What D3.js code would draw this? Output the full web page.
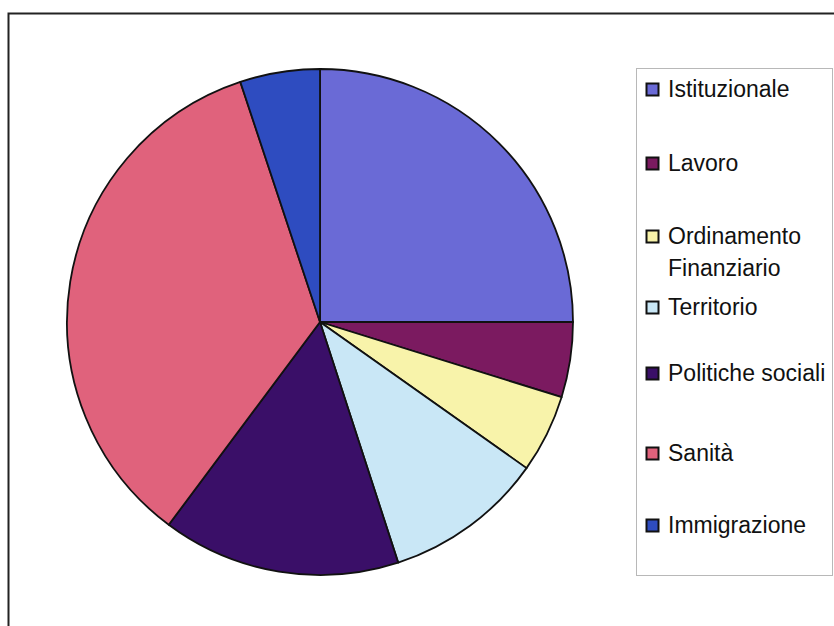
<!DOCTYPE html>
<html>
<head>
<meta charset="utf-8">
<script src="https://cdn.jsdelivr.net/npm/d3@7"></script>
<style>
  html, body { margin: 0; padding: 0; background: #ffffff; }
  svg { display: block; }
</style>
</head>
<body>
<script>
// Share of regional acts by subject area (percent)
const categories = ["Istituzionale", "Lavoro", "Ordinamento Finanziario", "Territorio", "Politiche sociali", "Sanità", "Immigrazione"];
const values = [25.0, 4.8, 5.0, 10.2, 15.2, 34.7, 5.1];
const colors = ["#6a6ad6", "#7b1a60", "#f8f3aa", "#c9e7f6", "#3a0f68", "#e0627c", "#2e4cc0"];
// Legend label lines (long names wrap onto two lines)
const legendLines = [["Istituzionale"], ["Lavoro"], ["Ordinamento", "Finanziario"], ["Territorio"], ["Politiche sociali"], ["Sanità"], ["Immigrazione"]];
const legendY = [89, 163, 236, 307, 373, 453, 525];

const W = 834, H = 626;
const svg = d3.select("body").append("svg").attr("width", W).attr("height", H);

// Chart frame
svg.append("rect")
  .attr("x", 8.5).attr("y", 13.5)
  .attr("width", 900).attr("height", 700)
  .attr("fill", "#ffffff")
  .attr("stroke", "#222222").attr("stroke-width", 2);

// Pie
const cx = 320, cy = 322, r = 253;
const data = categories.map((c, i) => ({ name: c, value: values[i], color: colors[i] }));
const pie = d3.pie().value(d => d.value).sort(null);
const arc = d3.arc().innerRadius(0).outerRadius(r);

svg.append("g")
  .attr("transform", `translate(${cx},${cy})`)
  .selectAll("path")
  .data(pie(data))
  .join("path")
  .attr("d", arc)
  .attr("fill", d => d.data.color)
  .attr("stroke", "#111111")
  .attr("stroke-width", 1.8)
  .attr("stroke-linejoin", "round");

// Legend
svg.append("rect")
  .attr("x", 636.5).attr("y", 68.5)
  .attr("width", 196).attr("height", 507)
  .attr("fill", "#ffffff")
  .attr("stroke", "#b8b8b8").attr("stroke-width", 1);

const lg = svg.append("g");
data.forEach((d, i) => {
  const y = legendY[i];
  lg.append("rect")
    .attr("x", 646.5).attr("y", y - 5.5)
    .attr("width", 12).attr("height", 12)
    .attr("fill", d.color)
    .attr("stroke", "#111111").attr("stroke-width", 2);
  legendLines[i].forEach((line, j) => {
    lg.append("text")
      .attr("x", 668).attr("y", y + j * 32)
      .attr("dy", "0.36em")
      .attr("font-family", "Liberation Sans, Arial, sans-serif")
      .attr("font-size", 23)
      .attr("fill", "#111111")
      .text(line);
  });
});
</script>
</body>
</html>
